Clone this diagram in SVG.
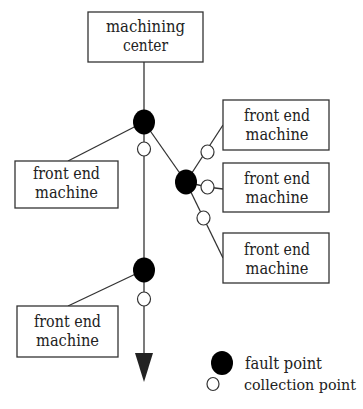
<svg xmlns="http://www.w3.org/2000/svg" width="363" height="409" viewBox="0 0 363 409">
<style>
.box{fill:#fff;stroke:#333;stroke-width:1.3}
text{font-family:'DejaVu Serif','Liberation Serif',serif;font-size:16.5px;fill:#222}
.t{text-anchor:middle}
.ln{stroke:#333;stroke-width:1.3;fill:none}
.fault{fill:#000}
.coll{fill:#fff;stroke:#333;stroke-width:1.2}
</style>
<rect width="363" height="409" fill="#fff"/>
<g id="connectors">
<line class="ln" x1="144" y1="62" x2="144" y2="356"/>
<line class="ln" x1="68" y1="161" x2="144" y2="122"/>
<line class="ln" x1="68" y1="306" x2="144" y2="270"/>
<line class="ln" x1="144" y1="122" x2="186" y2="182"/>
<line class="ln" x1="186" y1="182" x2="223" y2="125"/>
<polyline class="ln" points="186,182 207,187 223,189"/>
<line class="ln" x1="186" y1="182" x2="223" y2="258"/>
<polygon points="135,353 153,353 144,382" fill="#222"/>
</g>
<g id="fault1"><ellipse class="fault" cx="144" cy="122" rx="11" ry="12.5"/></g>
<g id="coll1"><ellipse class="coll" cx="144" cy="149" rx="6.5" ry="7"/></g>
<g id="fault2"><ellipse class="fault" cx="186" cy="182" rx="11" ry="12.5"/></g>
<g id="coll2"><ellipse class="coll" cx="207.5" cy="152" rx="6.5" ry="7"/></g>
<g id="coll3"><ellipse class="coll" cx="207.5" cy="187" rx="6.5" ry="7"/></g>
<g id="coll4"><ellipse class="coll" cx="203.5" cy="218" rx="6.5" ry="7"/></g>
<g id="fault3"><ellipse class="fault" cx="144" cy="270" rx="11" ry="12.5"/></g>
<g id="coll5"><ellipse class="coll" cx="144" cy="299" rx="6.5" ry="7"/></g>
<g id="machining-center">
<rect class="box" x="88" y="12" width="115" height="50"/>
<text class="t" x="145.5" y="32" textLength="79" lengthAdjust="spacingAndGlyphs">machining</text>
<text class="t" x="145.5" y="51" textLength="45" lengthAdjust="spacingAndGlyphs">center</text>
</g>
<g id="fem-left1">
<rect class="box" x="15" y="161" width="103" height="47"/>
<text class="t" x="66.5" y="179" textLength="67" lengthAdjust="spacingAndGlyphs">front end</text>
<text class="t" x="66.5" y="198" textLength="63" lengthAdjust="spacingAndGlyphs">machine</text>
</g>
<g id="fem-right1">
<rect class="box" x="223" y="100" width="106" height="50"/>
<text class="t" x="277" y="121" textLength="66" lengthAdjust="spacingAndGlyphs">front end</text>
<text class="t" x="277" y="140" textLength="63" lengthAdjust="spacingAndGlyphs">machine</text>
</g>
<g id="fem-right2">
<rect class="box" x="223" y="163" width="106" height="49"/>
<text class="t" x="277" y="184" textLength="66" lengthAdjust="spacingAndGlyphs">front end</text>
<text class="t" x="277" y="203" textLength="63" lengthAdjust="spacingAndGlyphs">machine</text>
</g>
<g id="fem-right3">
<rect class="box" x="223" y="233" width="106" height="50"/>
<text class="t" x="277" y="255" textLength="66" lengthAdjust="spacingAndGlyphs">front end</text>
<text class="t" x="277" y="274" textLength="63" lengthAdjust="spacingAndGlyphs">machine</text>
</g>
<g id="fem-left2">
<rect class="box" x="17" y="306" width="101" height="51"/>
<text class="t" x="67.5" y="327" textLength="67" lengthAdjust="spacingAndGlyphs">front end</text>
<text class="t" x="67.5" y="346" textLength="63" lengthAdjust="spacingAndGlyphs">machine</text>
</g>
<g id="legend">
<ellipse class="fault" cx="222" cy="363" rx="11" ry="12"/>
<text x="245" y="369" textLength="77" lengthAdjust="spacingAndGlyphs">fault point</text>
<ellipse class="coll" cx="213" cy="384" rx="6" ry="6.5"/>
<text x="244" y="390" style="font-size:14px" textLength="112" lengthAdjust="spacingAndGlyphs">collection point</text>
</g>
</svg>
